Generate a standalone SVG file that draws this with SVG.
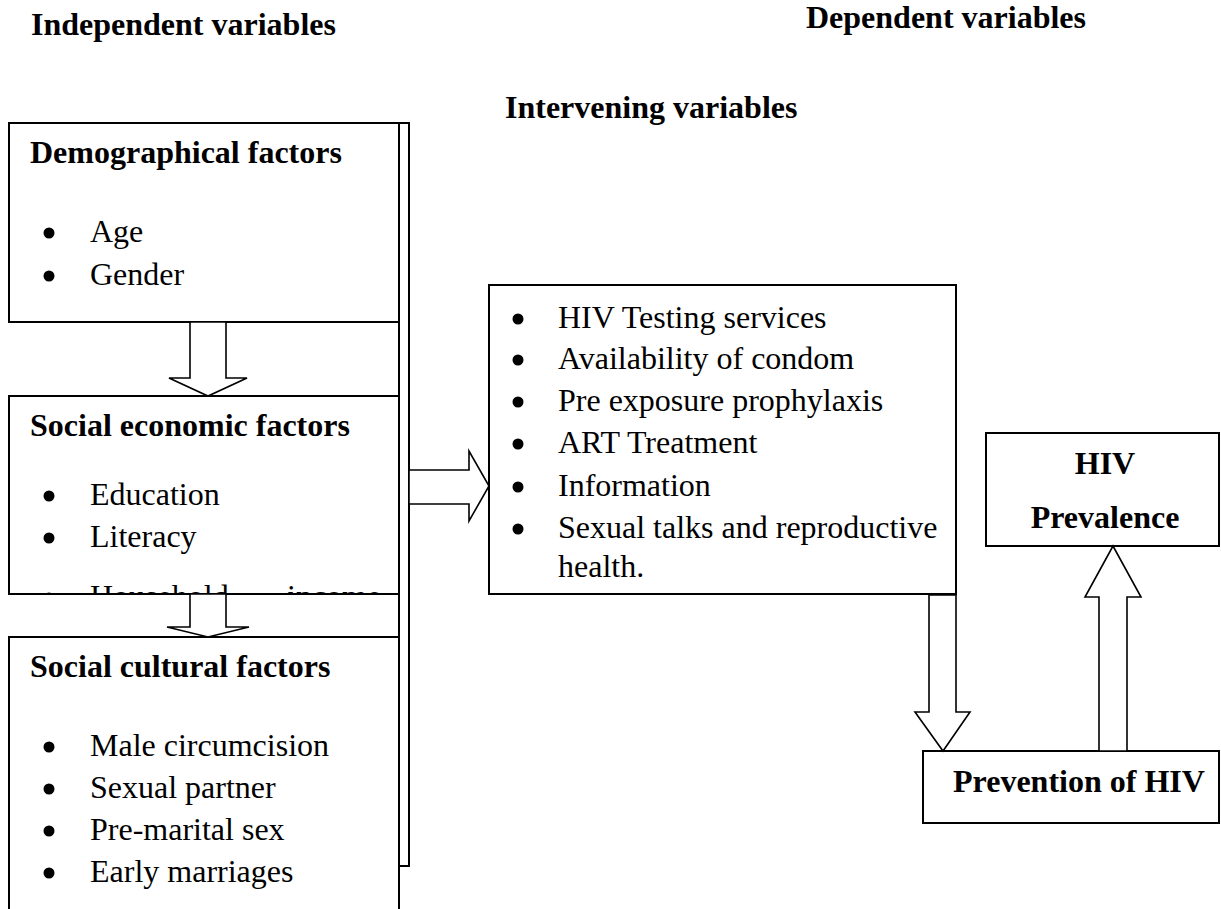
<svg xmlns="http://www.w3.org/2000/svg" width="1221" height="909" viewBox="0 0 1221 909">
<style>
.box{fill:#fff;stroke:#000;stroke-width:2}
.arr{fill:#fff;stroke:#000;stroke-width:1.6;stroke-linejoin:miter}
.h{font-family:"Liberation Serif","Times New Roman",serif;font-weight:bold;font-size:32px;fill:#000}
.t{font-family:"Liberation Serif","Times New Roman",serif;font-size:32px;fill:#000}
.b{fill:#000}
</style>
<defs>
<clipPath id="seclip"><rect x="9" y="396" width="390" height="197"/></clipPath>
</defs>
<rect width="1221" height="909" fill="#fff"/>

<g id="titles">
<text class="h" x="31" y="35">Independent variables</text>
<text class="h" x="806" y="28">Dependent variables</text>
<text class="h" x="505" y="118">Intervening variables</text>
</g>

<g id="independent-bar">
<rect class="box" x="399" y="123" width="10" height="743"/>
</g>

<g id="demographical">
<rect class="box" x="9" y="123" width="390" height="199"/>
<text class="h" x="30" y="163">Demographical factors</text>
<circle class="b" cx="49" cy="233" r="5.5"/>
<text class="t" x="90" y="242">Age</text>
<circle class="b" cx="49" cy="276" r="5.5"/>
<text class="t" x="90" y="285">Gender</text>
</g>

<g id="socio-economic">
<rect class="box" x="9" y="396" width="390" height="198"/>
<text class="h" x="30" y="436">Social economic factors</text>
<circle class="b" cx="49" cy="496" r="5.5"/>
<text class="t" x="90" y="505">Education</text>
<circle class="b" cx="49" cy="538" r="5.5"/>
<text class="t" x="90" y="547">Literacy</text>
<g clip-path="url(#seclip)">
<circle class="b" cx="49" cy="598" r="5.5"/>
<text class="t" x="90" y="607">Household</text>
<text class="t" x="287" y="607">income</text>
</g>
</g>

<g id="socio-cultural">
<rect class="box" x="9" y="637" width="390" height="290"/>
<text class="h" x="30" y="677">Social cultural factors</text>
<circle class="b" cx="49" cy="747" r="5.5"/>
<text class="t" x="90" y="756">Male circumcision</text>
<circle class="b" cx="49" cy="789" r="5.5"/>
<text class="t" x="90" y="798">Sexual partner</text>
<circle class="b" cx="49" cy="831" r="5.5"/>
<text class="t" x="90" y="840">Pre-marital sex</text>
<circle class="b" cx="49" cy="873" r="5.5"/>
<text class="t" x="90" y="882">Early marriages</text>
</g>

<g id="intervening">
<rect class="box" x="489" y="285" width="467" height="309"/>
<circle class="b" cx="518" cy="319" r="5.5"/>
<text class="t" x="558" y="328">HIV Testing services</text>
<circle class="b" cx="518" cy="360" r="5.5"/>
<text class="t" x="558" y="369">Availability of condom</text>
<circle class="b" cx="518" cy="402" r="5.5"/>
<text class="t" x="558" y="411">Pre exposure prophylaxis</text>
<circle class="b" cx="518" cy="444" r="5.5"/>
<text class="t" x="558" y="453">ART Treatment</text>
<circle class="b" cx="518" cy="487" r="5.5"/>
<text class="t" x="558" y="496">Information</text>
<circle class="b" cx="518" cy="529" r="5.5"/>
<text class="t" x="558" y="538">Sexual talks and reproductive</text>
<text class="t" x="558" y="577">health.</text>
</g>

<g id="hiv-prevalence">
<rect class="box" x="986" y="433" width="233" height="113"/>
<text class="h" x="1105" y="474" text-anchor="middle">HIV</text>
<text class="h" x="1105" y="528" text-anchor="middle">Prevalence</text>
</g>

<g id="prevention">
<rect class="box" x="923" y="751" width="296" height="72"/>
<text class="h" x="953" y="792">Prevention of HIV</text>
</g>

<g id="connectors">
<polygon class="arr" points="190,322 226,322 226,378 247,378 208,396 169,378 190,378"/>
<polygon class="arr" points="190,594 226,594 226,627 249,627 208,637 167,627 190,627"/>
<polygon class="arr" points="409,470 469,470 469,451 489,486 469,521 469,504 409,504"/>
<polygon class="arr" points="929,595 956,595 956,712 970,712 943,751 915,712 929,712"/>
<polygon class="arr" points="1099,751 1099,597 1085,597 1113,546 1141,597 1127,597 1127,751"/>
</g>
</svg>
